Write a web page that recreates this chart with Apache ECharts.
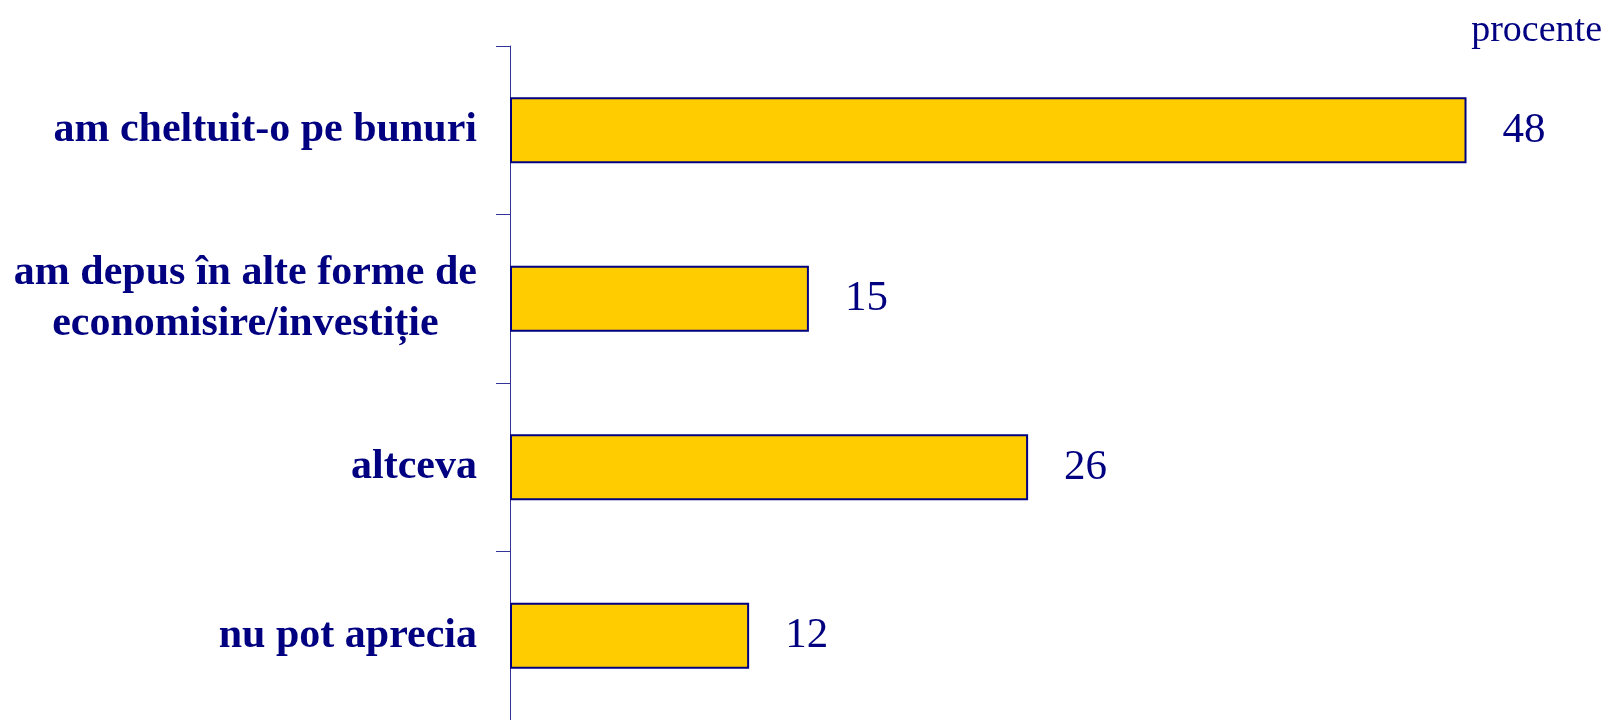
<!DOCTYPE html>
<html>
<head>
<meta charset="utf-8">
<script src="https://cdn.jsdelivr.net/npm/echarts@6/dist/echarts.min.js"></script>
<style>
  html, body { margin: 0; padding: 0; background: #fff; }
  #chart { width: 1614px; height: 720px; }
</style>
</head>
<body>
<div id="chart"></div>
<script>
// categories, top to bottom
const categories = [
  'am cheltuit-o pe bunuri',
  'am depus în alte forme de\neconomisire/investiție',
  'altceva',
  'nu pot aprecia'
];
const values = [48, 15, 26, 12];
const unitLabel = 'procente';

const navy = '#000080';
const chart = echarts.init(document.getElementById('chart'));

const option = {
  backgroundColor: '#fff',
  animation: false,
  title: {
    text: unitLabel,
    right: 7,
    top: 7,
    textStyle: {
      fontFamily: 'Liberation Serif',
      fontWeight: 'normal',
      fontSize: 38,
      color: navy
    }
  },
  grid: {
    left: 510,
    right: 8,
    top: 46,
    bottom: -2
  },
  xAxis: {
    type: 'value',
    min: 0,
    max: 55,
    show: false
  },
  yAxis: {
    type: 'category',
    data: categories,
    inverse: true,
    axisLine: { show: true, lineStyle: { color: '#333399', width: 1 } },
    axisTick: { show: true, length: 14, lineStyle: { color: '#333399', width: 1 } },
    axisLabel: {
      margin: 33,
      // center each line inside the label block
      formatter: v => v.split('\n').map(s => '{c|' + s + '}').join('\n'),
      rich: {
        c: {
          align: 'center',
          fontFamily: 'Liberation Serif',
          fontWeight: 'bold',
          fontSize: 42,
          lineHeight: 51,
          color: navy
        }
      }
    },
    splitLine: { show: false }
  },
  series: [{
    type: 'bar',
    data: values,
    barWidth: 66,
    itemStyle: {
      color: '#FFCC00',
      borderColor: navy,
      borderWidth: 2
    },
    label: {
      show: true,
      position: 'right',
      distance: 36,
      fontFamily: 'Liberation Serif',
      fontSize: 43,
      color: navy
    }
  }]
};

chart.setOption(option);
</script>
</body>
</html>
